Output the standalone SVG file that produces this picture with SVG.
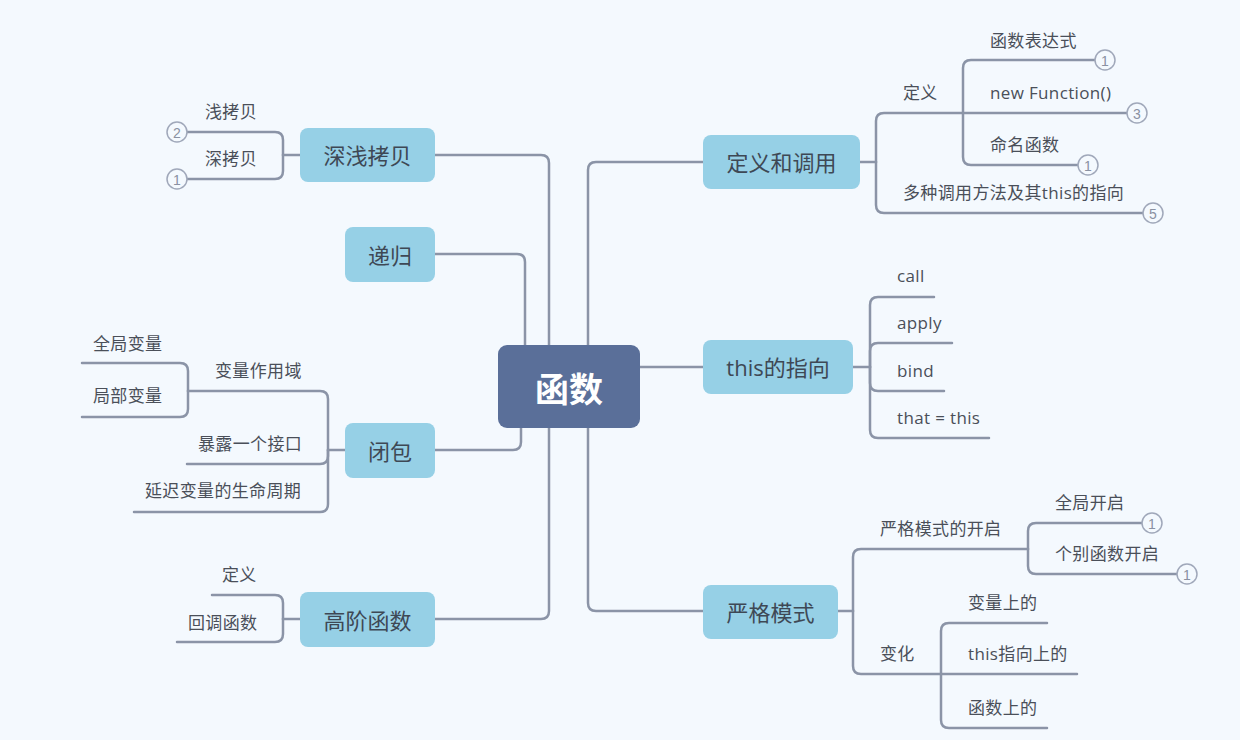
<svg xmlns="http://www.w3.org/2000/svg" width="1240" height="740" viewBox="0 0 1240 740">
<style>
.bg{fill:#f4f9fe}
.ln{fill:none;stroke:#8b94a7;stroke-width:2.5;stroke-linecap:round;stroke-linejoin:round}
.main rect{fill:#96d0e6}
.main text{font-family:"Open Sans","Noto Sans CJK SC",sans-serif;font-size:22px;fill:#3e4855;text-anchor:middle;dominant-baseline:central}
.leaf{font-family:"Open Sans","Noto Sans CJK SC",sans-serif;font-size:17px;fill:#4a4f59;letter-spacing:0.35px}
.num circle{fill:#f4f9fe;stroke:#a0a8ba;stroke-width:1.5}
.num text{font-family:"Liberation Sans",sans-serif;font-size:14px;fill:#8a91a2;text-anchor:middle;dominant-baseline:central}
</style>
<rect class="bg" x="0" y="0" width="1240" height="740"/>
<g id="connectors">
<path class="ln" d="M435,155 H541 Q549,155 549,163 V345"/>
<path class="ln" d="M435,254 H517 Q525,254 525,262 V345"/>
<path class="ln" d="M703,162 H596 Q588,162 588,170 V345"/>
<path class="ln" d="M640,367 H703"/>
<path class="ln" d="M435,450 H513 Q521,450 521,442 V428"/>
<path class="ln" d="M435,619 H541 Q549,619 549,611 V428"/>
<path class="ln" d="M703,611 H596 Q588,611 588,603 V428"/>
<path class="ln" d="M860,162 H876"/>
<path class="ln" d="M876,162 V121 Q876,113 884,113 H963"/>
<path class="ln" d="M963,113 H1127"/>
<path class="ln" d="M876,162 V205 Q876,213 884,213 H1143"/>
<path class="ln" d="M963,113 V68 Q963,60 971,60 H1095"/>
<path class="ln" d="M963,113 V157 Q963,165 971,165 H1078"/>
<path class="ln" d="M853,367 H870"/>
<path class="ln" d="M870,367 V305 Q870,297 878,297 H934"/>
<path class="ln" d="M870,367 V351 Q870,343 878,343 H952"/>
<path class="ln" d="M870,367 V383 Q870,391 878,391 H944"/>
<path class="ln" d="M870,367 V430 Q870,438 878,438 H989"/>
<path class="ln" d="M838,611 H853"/>
<path class="ln" d="M853,611 V557 Q853,549 861,549 H1028"/>
<path class="ln" d="M1028,549 V531 Q1028,523 1036,523 H1142"/>
<path class="ln" d="M1028,549 V566 Q1028,574 1036,574 H1177"/>
<path class="ln" d="M853,611 V666 Q853,674 861,674 H941"/>
<path class="ln" d="M941,674 H1077"/>
<path class="ln" d="M941,674 V631 Q941,623 949,623 H1047"/>
<path class="ln" d="M941,674 V720 Q941,728 949,728 H1047"/>
<path class="ln" d="M300,155 H283"/>
<path class="ln" d="M283,155 V140 Q283,132 275,132 H187"/>
<path class="ln" d="M283,155 V171 Q283,179 275,179 H187"/>
<path class="ln" d="M345,450 H328"/>
<path class="ln" d="M328,450 V399 Q328,391 320,391 H188"/>
<path class="ln" d="M188,391 V371 Q188,363 180,363 H82"/>
<path class="ln" d="M188,391 V409 Q188,417 180,417 H82"/>
<path class="ln" d="M328,450 V456 Q328,464 320,464 H187"/>
<path class="ln" d="M328,450 V504 Q328,512 320,512 H134"/>
<path class="ln" d="M300,619 H283"/>
<path class="ln" d="M283,619 V603 Q283,595 275,595 H212"/>
<path class="ln" d="M283,619 V634 Q283,642 275,642 H177"/>
</g>
<g id="center">
<rect x="498" y="345" width="142" height="83" rx="9" fill="#5a6f99"/>
<text x="569" y="387" font-family="'Noto Sans CJK SC',sans-serif" font-size="34" font-weight="bold" fill="#ffffff" text-anchor="middle" dominant-baseline="central">函数</text>
</g>
<g id="n-dingyi" class="main"><rect x="703" y="135" width="157" height="54" rx="8"/><text x="781.5" y="162">定义和调用</text></g>
<g id="n-this" class="main"><rect x="703" y="340" width="150" height="54" rx="8"/><text x="778" y="367">this的指向</text></g>
<g id="n-strict" class="main"><rect x="703" y="585" width="135" height="54" rx="8"/><text x="770.5" y="612">严格模式</text></g>
<g id="n-copy" class="main"><rect x="300" y="128" width="135" height="54" rx="8"/><text x="367.5" y="155">深浅拷贝</text></g>
<g id="n-rec" class="main"><rect x="345" y="227" width="90" height="55" rx="8"/><text x="390" y="254.5">递归</text></g>
<g id="n-closure" class="main"><rect x="345" y="423" width="90" height="55" rx="8"/><text x="390" y="450.5">闭包</text></g>
<g id="n-hof" class="main"><rect x="300" y="592" width="135" height="55" rx="8"/><text x="367.5" y="619.5">高阶函数</text></g>
<g id="t-dingyi"><text class="leaf" x="903" y="99">定义</text></g>
<g id="t-expr"><text class="leaf" x="990" y="47">函数表达式</text></g>
<g id="t-newfn"><text class="leaf" x="990" y="99">new Function()</text></g>
<g id="t-named"><text class="leaf" x="990" y="151">命名函数</text></g>
<g id="t-multi"><text class="leaf" x="903" y="199">多种调用方法及其this的指向</text></g>
<g id="t-call"><text class="leaf" x="897" y="282">call</text></g>
<g id="t-apply"><text class="leaf" x="897" y="329">apply</text></g>
<g id="t-bind"><text class="leaf" x="897" y="377">bind</text></g>
<g id="t-that"><text class="leaf" x="897" y="424">that = this</text></g>
<g id="t-open"><text class="leaf" x="880" y="535">严格模式的开启</text></g>
<g id="t-global"><text class="leaf" x="1055" y="509">全局开启</text></g>
<g id="t-single"><text class="leaf" x="1055" y="560">个别函数开启</text></g>
<g id="t-change"><text class="leaf" x="880" y="660">变化</text></g>
<g id="t-var"><text class="leaf" x="968" y="609">变量上的</text></g>
<g id="t-thisp"><text class="leaf" x="968" y="660">this指向上的</text></g>
<g id="t-fnp"><text class="leaf" x="968" y="714">函数上的</text></g>
<g id="t-shallow"><text class="leaf" x="205" y="118">浅拷贝</text></g>
<g id="t-deep"><text class="leaf" x="205" y="165">深拷贝</text></g>
<g id="t-scope"><text class="leaf" x="215" y="377">变量作用域</text></g>
<g id="t-gvar"><text class="leaf" x="93" y="350">全局变量</text></g>
<g id="t-lvar"><text class="leaf" x="93" y="402">局部变量</text></g>
<g id="t-expose"><text class="leaf" x="198" y="450">暴露一个接口</text></g>
<g id="t-delay"><text class="leaf" x="145" y="497">延迟变量的生命周期</text></g>
<g id="t-hdef"><text class="leaf" x="222" y="581">定义</text></g>
<g id="t-cb"><text class="leaf" x="188" y="629">回调函数</text></g>
<g id="badges" class="num">
<g><circle cx="1105" cy="60" r="10"/><text x="1105" y="60.5">1</text></g>
<g><circle cx="1137" cy="113" r="10"/><text x="1137" y="113.5">3</text></g>
<g><circle cx="1088" cy="165" r="10"/><text x="1088" y="165.5">1</text></g>
<g><circle cx="1153" cy="213" r="10"/><text x="1153" y="213.5">5</text></g>
<g><circle cx="1152" cy="523" r="10"/><text x="1152" y="523.5">1</text></g>
<g><circle cx="1187" cy="574" r="10"/><text x="1187" y="574.5">1</text></g>
<g><circle cx="177" cy="132" r="10"/><text x="177" y="132.5">2</text></g>
<g><circle cx="177" cy="179" r="10"/><text x="177" y="179.5">1</text></g>
</g>
</svg>
